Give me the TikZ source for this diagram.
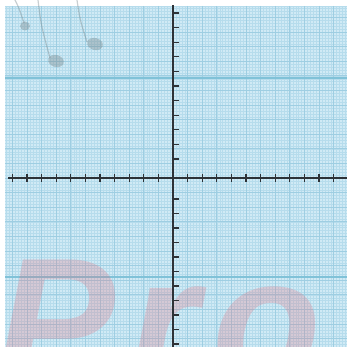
\documentclass[tikz,border=0pt]{standalone}
\usepackage{fontspec}
\newfontfamily\markfont{Liberation Sans}[LetterSpace=8]
\definecolor{paper}{RGB}{208,234,245}
\definecolor{fineline}{RGB}{182,220,236}
\definecolor{midline}{RGB}{158,206,226}
\definecolor{majorline}{RGB}{128,194,216}
\definecolor{axisgray}{RGB}{45,50,55}
\definecolor{notegray}{RGB}{120,135,140}
\definecolor{markred}{RGB}{230,100,115}

\begin{document}
\begin{tikzpicture} [x = 0.03cm, y = -0.03cm, axisline/.style = {draw = axisgray, line width = 1.1pt}, tickmark/.style = {draw = axisgray, line width = 0.9pt}, finegrid/.style = {draw = fineline, line width = 0.25pt}, midgrid/.style = {draw = midline, line width = 0.6pt}, majorgrid/.style = {draw = majorline, line width = 1.3pt}]

\useasboundingbox (0,0) rectangle (347,347);

\fill [paper] (5,6) rectangle (347,347);

\begin{scope}
\clip (5,6) rectangle (347,347);
\foreach \k in {-60,...,60} {
  \draw [finegrid] ({173+2.92*\k},6) -- ({173+2.92*\k},347);
  \draw [finegrid] (5,{178+2.92*\k}) -- (347,{178+2.92*\k});
}
\foreach \k in {-12,...,12} {
  \draw [midgrid] ({173+14.6*\k},6) -- ({173+14.6*\k},347);
  \draw [midgrid] (5,{178+14.6*\k}) -- (347,{178+14.6*\k});
}
\draw [majorgrid] (5,78) -- (347,78);
\draw [majorgrid] (5,277) -- (347,277);
\end{scope}

% watermark
\begin{scope} [opacity = 0.24]
\node (mark) [anchor = base west, inner sep = 0pt, text = markred, font = \markfont\bfseries\itshape\fontsize{152}{152}\selectfont] at (-4,382) {Pro};
\end{scope}

\begin{scope} [notegray, opacity = 0.4, line width = 1pt]
\draw (15,0) .. controls (19,8) .. (24,23);
\fill (25,26) ellipse (5 and 4.5);
\draw (38,0) .. controls (41,25) .. (50,58);
\fill [rotate around = {-15:(56,61)}] (56,61) ellipse (8 and 6);
\draw (77,0) .. controls (80,20) .. (87,42);
\fill [rotate around = {-15:(95,44)}] (95,44) ellipse (8 and 6);
\end{scope}

% axes
\coordinate (xleft) at (8,178);
\coordinate (xright) at (347,178);
\coordinate (ytop) at (173,5);
\coordinate (ybottom) at (173,347);

\draw [axisline] (xleft) -- (xright);
\draw [axisline] (ytop) -- (ybottom);

\foreach \k in {1,...,11} {
  \draw [tickmark] ({173-14.6*\k},174) -- ({173-14.6*\k},182);
  \draw [tickmark] ({173+14.6*\k},174) -- ({173+14.6*\k},182);
}
\foreach \k in {0,...,10} {
  \draw [tickmark] (173,{159-14.6*\k}) -- (179,{159-14.6*\k});
  \draw [tickmark] (173,{199+14.5*\k}) -- (179,{199+14.5*\k});
}

\end{tikzpicture}
\end{document}
